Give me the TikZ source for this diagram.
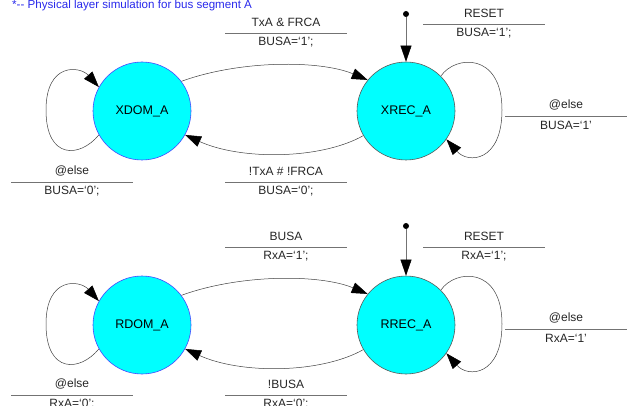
\documentclass[tikz,border=0pt]{standalone}
\usepackage{fontspec}
\setmainfont{Liberation Sans}
\usetikzlibrary{arrows.meta}

\definecolor{stcyan}{RGB}{0,255,255}
\definecolor{stblue}{RGB}{70,70,255}
\definecolor{hdrblue}{RGB}{40,40,235}

\tikzset{
    state/.style={circle, fill=stcyan, draw=#1, line width=0.6pt, minimum size=98pt,
        inner sep=0pt, font=\fontsize{12.5}{14}\selectfont},
    trans/.style={draw=black!75, line width=0.5pt, -{Triangle[length=16pt,width=11pt,black]}},
    lbl/.style={font=\fontsize{12}{14}\selectfont, text=black!85, inner sep=0pt},
    rule/.style={draw=black!55, line width=0.6pt},
    initdot/.style={circle, fill=black, inner sep=0pt, minimum size=6pt},
}

\begin{document}
\begin{tikzpicture}[x=1pt, y=-1pt]
    \useasboundingbox (0,0) rectangle (629,406);

    \node[anchor=base west, inner sep=0pt, text=hdrblue, font=\fontsize{11.6}{13}\selectfont]
        (title) at (12,9) {*-{}- Physical layer simulation for bus segment A};

    % states
    \node[state=stblue] (XDOM) at (142,111) {XDOM\_A};
    \node[state=black!65] (XREC) at (406,111) {XREC\_A};
    \node[state=stblue] (RDOM) at (142,325) {RDOM\_A};
    \node[state=black!65] (RREC) at (406,325) {RREC\_A};

    \node[initdot] (xinit) at (406,14) {};
    \node[initdot] (rinit) at (406,226) {};

    % transition labels: guard over the line, action under it
    \foreach \n/\x/\y/\g/\a in {
        xa/286/33/{TxA \& FRCA}/{BUSA=`1';},
        xb/484/24/{RESET}/{BUSA=`1';},
        xc/566/116/{@else}/{BUSA=`1'},
        xd/72/182/{@else}/{BUSA=`0';},
        xe/286/182/{!TxA \# !FRCA}/{BUSA=`0';},
        ra/286/247/{BUSA}/{RxA=`1';},
        rb/484/247/{RESET}/{RxA=`1';},
        rc/566/329/{@else}/{RxA=`1'},
        rd/72/395/{@else}/{RxA=`0';},
        re/286/395/{!BUSA}/{RxA=`0';}} {
        \node[lbl] (\n-g) at (\x,\y-11) {\g};
        \node[lbl] (\n-a) at (\x,\y+9) {\a};
        \draw[rule] (\x-61,\y) -- (\x+61,\y);
    }

    % bus segment A, transmit side
    \draw[trans, draw=black!55] (xinit) -- (XREC);
    \draw[trans] (XDOM.37) .. controls (240,60) and (320,60) .. (XREC.141);
    \draw[trans] (XREC.210) .. controls (320,160) and (240,160) .. (XDOM.331);
    \draw[trans] (XDOM.209) .. controls (80,158) and (46,160) .. (46,110)
        .. controls (46,62) and (80,66) .. (XDOM.151);
    \draw[trans] (XREC.45) .. controls (455,55) and (502,52) .. (502,110)
        .. controls (502,162) and (468,164) .. (XREC.325);

    % bus segment A, receive side
    \draw[trans, draw=black!55] (rinit) -- (RREC);
    \draw[trans] (RDOM.37) .. controls (240,274) and (320,274) .. (RREC.141);
    \draw[trans] (RREC.210) .. controls (320,374) and (240,374) .. (RDOM.331);
    \draw[trans] (RDOM.209) .. controls (80,372) and (46,374) .. (46,324)
        .. controls (46,276) and (80,280) .. (RDOM.151);
    \draw[trans] (RREC.45) .. controls (455,269) and (502,266) .. (502,324)
        .. controls (502,376) and (468,378) .. (RREC.325);
\end{tikzpicture}
\end{document}
